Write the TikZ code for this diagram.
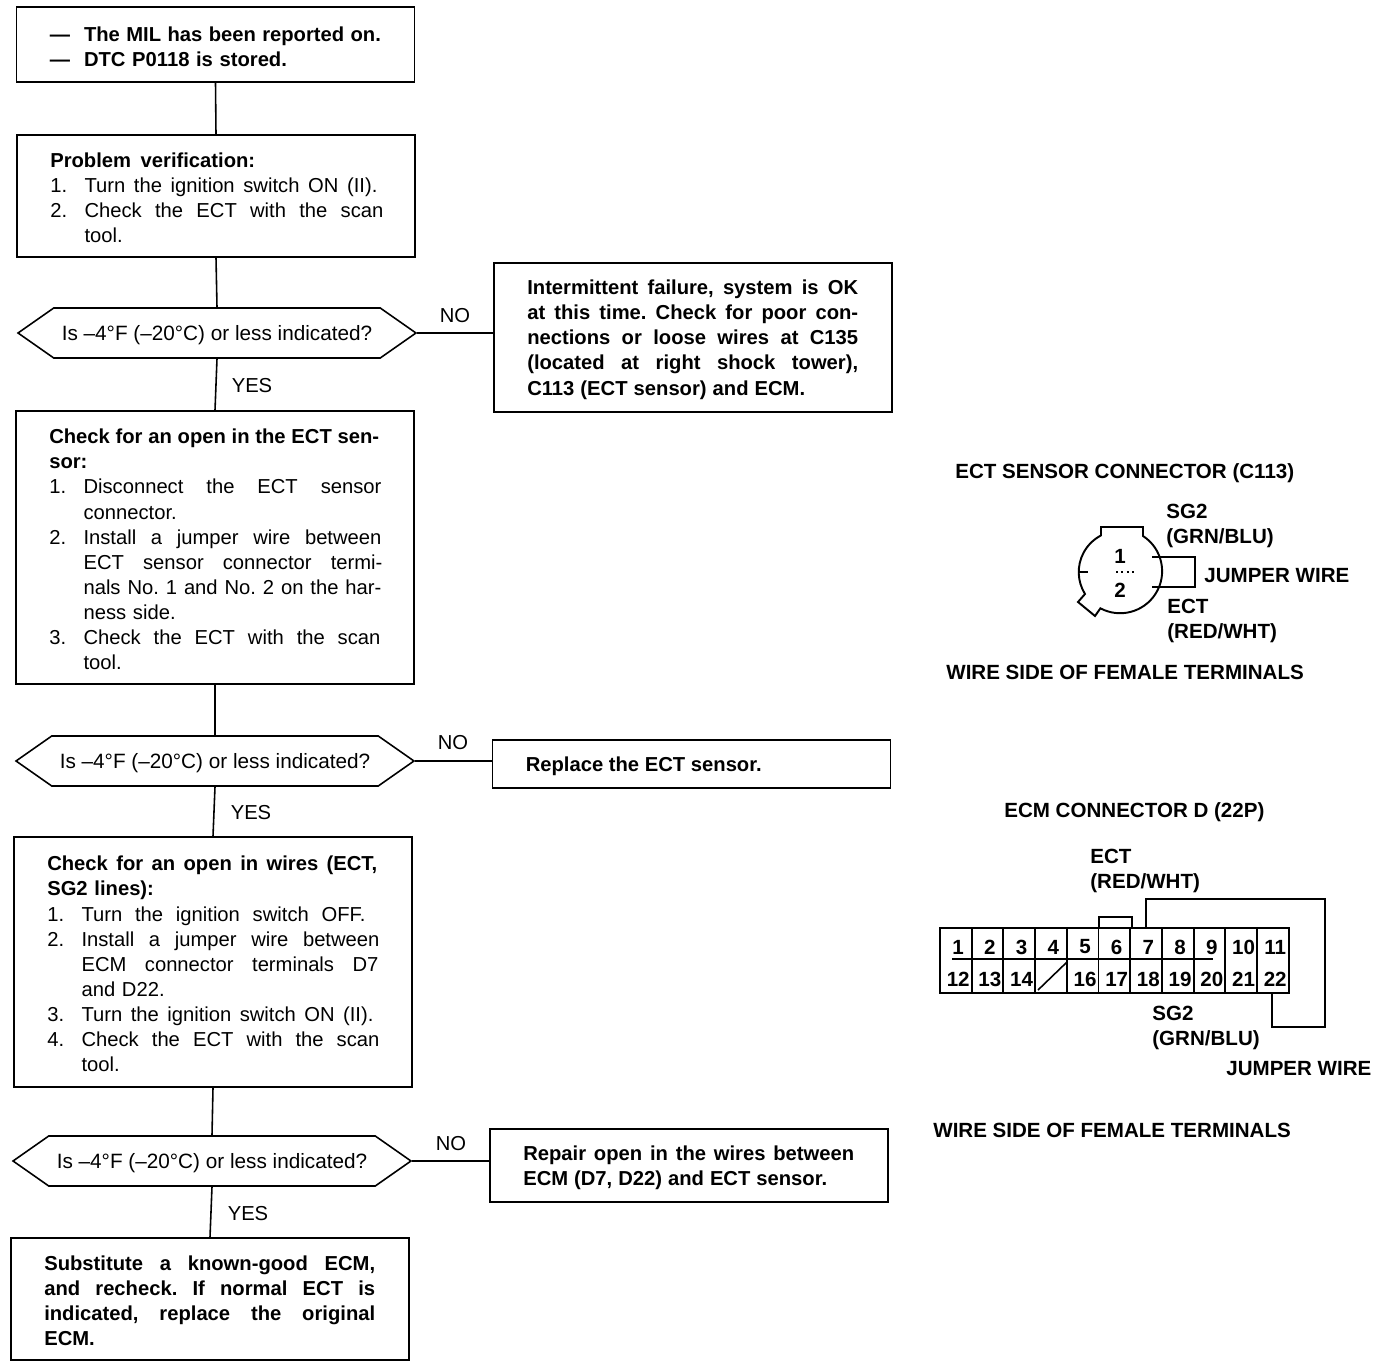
\documentclass[tikz,border=0pt]{standalone}
\usepackage{fontspec}
\setmainfont{Liberation Sans}
\usepackage{tikz}
\usetikzlibrary{shapes.symbols, calc}
\newcommand{\itm}[1]{\makebox[19.5pt][l]{#1}}
\newcommand{\ind}{\hspace*{19.5pt}}
% line set to a width given in pixels of the picture
\newcommand{\jl}[2]{\makebox[\dimexpr#1pt*569/1000\relax][s]{\frenchspacing\spaceskip=.3em plus 1em minus .1em\relax\xspaceskip=0pt #2}}
\tikzset{
    stepbox/.style={draw, line width=0.9pt, align=left, text width=6.63cm, inner xsep=19pt, inner ysep=0pt, anchor=center,
        execute at begin node={\rule{0pt}{10.7pt}}},
    strong/.style={font=\fontsize{11.5}{14.3}\selectfont\bfseries},
    askbox/.style={draw, line width=0.9pt, shape=signal, signal to=east and west, signal pointer angle=70,
        minimum width=7.96cm, minimum height=1cm, inner sep=0pt, anchor=center, text height=11pt, text depth=2.4pt,
        font=\fontsize{11.8}{14.3}\selectfont},
    answer/.style={anchor=center},
    lab/.style={anchor=west, align=left, inner xsep=0pt, font=\fontsize{11.7}{14.4}\selectfont\bfseries},
    pin/.style={font=\fontsize{11.7}{14.4}\selectfont\bfseries},
    link/.style={line width=0.9pt},
    wire/.style={line width=1.1pt}
}
\begin{document}
\begin{tikzpicture}[x=0.02cm, y=-0.02cm, font=\fontsize{11.5}{14.3}\selectfont]
    \useasboundingbox (0,0) rectangle (1376,1368);

    % Flow chart, left column
    \node[stepbox, strong, minimum height=1.5cm] (mil) at (215.5,44.5)
        {\itm{---}\jl{297}{The MIL has been reported on.}\\ \itm{---}\jl{203}{DTC P0118 is stored.}};
    \node[stepbox, minimum height=2.44cm] (verify) at (216,196)
        {\textbf{\jl{205}{Problem verification:}}\\ \itm{1.}\jl{293}{Turn the ignition switch ON (II).}\\ \itm{2.}\jl{299}{Check the ECT with the scan}\\ \ind tool.};
    \node[askbox] (askone) at (217,333) {Is –4\textdegree F (–20\textdegree C) or less indicated?};
    \node[stepbox, minimum height=5.46cm] (sensor) at (215,547.5)
        {\textbf{\jl{330}{Check for an open in the ECT sen-}}\\ \textbf{sor:}\\
         \itm{1.}\jl{298}{Disconnect the ECT sensor}\\ \ind connector.\\
         \itm{2.}\jl{298}{Install a jumper wire between}\\ \ind \jl{299}{ECT sensor connector termi-}\\ \ind \jl{298}{nals No. 1 and No. 2 on the har-}\\ \ind ness side.\\
         \itm{3.}\jl{297}{Check the ECT with the scan}\\ \ind tool.};
    \node[askbox] (asktwo) at (215,761) {Is –4\textdegree F (–20\textdegree C) or less indicated?};
    \node[stepbox, minimum height=5cm] (wires) at (213,962)
        {\textbf{\jl{330}{Check for an open in wires (ECT,}}\\ \textbf{SG2 lines):}\\
         \itm{1.}\jl{284}{Turn the ignition switch OFF.}\\
         \itm{2.}\jl{298}{Install a jumper wire between}\\ \ind \jl{297}{ECM connector terminals D7}\\ \ind and D22.\\
         \itm{3.}\jl{292}{Turn the ignition switch ON (II).}\\
         \itm{4.}\jl{298}{Check the ECT with the scan}\\ \ind tool.};
    \node[askbox] (askthree) at (212,1161) {Is –4\textdegree F (–20\textdegree C) or less indicated?};
    \node[stepbox, strong, minimum height=2.44cm] (swap) at (210,1299)
        {\jl{331}{Substitute a known-good ECM,}\\ \jl{331}{and recheck. If normal ECT is}\\ \jl{331}{indicated, replace the original}\\ ECM.};

    % Flow chart, answers on the right
    \node[stepbox, strong, minimum height=2.98cm] (fail) at (693,337.5)
        {\jl{331}{Intermittent failure, system is OK}\\ \jl{331}{at this time. Check for poor con-}\\ \jl{331}{nections or loose wires at C135}\\ \jl{331}{(located at right shock tower),}\\ \jl{278}{C113 (ECT sensor) and ECM.}};
    \node[stepbox, strong, minimum height=0.96cm] (replace) at (691.5,764)
        {\jl{236}{Replace the ECT sensor.}};
    \node[stepbox, strong, minimum height=1.46cm] (repair) at (689,1165.5)
        {\jl{331}{Repair open in the wires between}\\ \jl{304}{ECM (D7, D22) and ECT sensor.}};

    \draw[link] (mil.south) -- (verify.north);
    \draw[link] (verify.south) -- (askone.north);
    \draw[link] (askone.south) -- (sensor.north);
    \draw[link] (sensor.south) -- (asktwo.north);
    \draw[link] (asktwo.south) -- (wires.north);
    \draw[link] (wires.south) -- (askthree.north);
    \draw[link] (askthree.south) -- (swap.north);
    \draw[link] (askone.east) -- (askone.east -| fail.west);
    \draw[link] (asktwo.east) -- (asktwo.east -| replace.west);
    \draw[link] (askthree.east) -- (askthree.east -| repair.west);

    \node[answer] (noone) at (455,316) {NO};
    \node[answer] (yesone) at (252,386) {YES};
    \node[answer] (notwo) at (453,743) {NO};
    \node[answer] (yestwo) at (251,813) {YES};
    \node[answer] (nothree) at (451,1144) {NO};
    \node[answer] (yesthree) at (248,1214) {YES};

    % ECT sensor connector
    \node[lab] (ecttitle) at (955,473) {ECT SENSOR CONNECTOR (C113)};
    \draw[wire] (1101,536) -- (1101,527) -- (1143,527) -- (1143,536)
        arc[start angle=-57, end angle=118, x radius=42, y radius=42] -- (1095,616) -- (1078,602) -- (1085,594)
        arc[start angle=148, end angle=242, x radius=41.3, y radius=41.3];
    \draw[wire] (1080,572) -- (1088,572);
    \draw[wire] (1152,557) -- (1195,557) -- (1195,587) -- (1152,587);
    \draw[dotted, wire] (1116,572) -- (1135,572);
    \node[pin] (pinone) at (1120,556) {1};
    \node[pin] (pintwo) at (1120,590) {2};
    \node[lab] (sgone) at (1166,526) {SG2\\(GRN/BLU)};
    \node[lab] (jumpone) at (1204,576) {JUMPER WIRE};
    \node[lab] (ectone) at (1167,621) {ECT\\(RED/WHT)};
    \node[lab] (sideone) at (946,672) {WIRE SIDE OF FEMALE TERMINALS};

    % ECM connector
    \node[lab] (ecmtitle) at (1004,812) {ECM CONNECTOR D (22P)};
    \draw[wire] (940,928) rectangle (1289,993);
    \draw[wire] (952,959) -- (1213,959);
    \foreach \x in {1,...,10} {
        \draw[wire] ({940+31.7*\x},928) -- ({940+31.7*\x},993);
    }
    \foreach \x in {1,...,11} {
        \node[pin] (top\x) at ({926.5+31.7*\x},947) {\x};
    }
    \foreach \x [evaluate=\x as \n using int(\x+11)] in {1,2,3,5,6,7,8,9,10,11} {
        \node[pin] (bot\x) at ({926.5+31.7*\x},979) {\n};
    }
    \draw[link] (1038,990) -- (1067,962);
    \draw[wire] (1099,928) -- (1099,917) -- (1132,917) -- (1132,928);
    \draw[wire] (1146,928) -- (1146,899) -- (1325,899) -- (1325,1027) -- (1272,1027) -- (1272,993);
    \node[lab] (ecttwo) at (1090,871) {ECT\\(RED/WHT)};
    \node[lab] (sgtwo) at (1152,1028) {SG2\\(GRN/BLU)};
    \node[lab] (jumptwo) at (1226,1069) {JUMPER WIRE};
    \node[lab] (sidetwo) at (933,1130) {WIRE SIDE OF FEMALE TERMINALS};
\end{tikzpicture}
\end{document}
